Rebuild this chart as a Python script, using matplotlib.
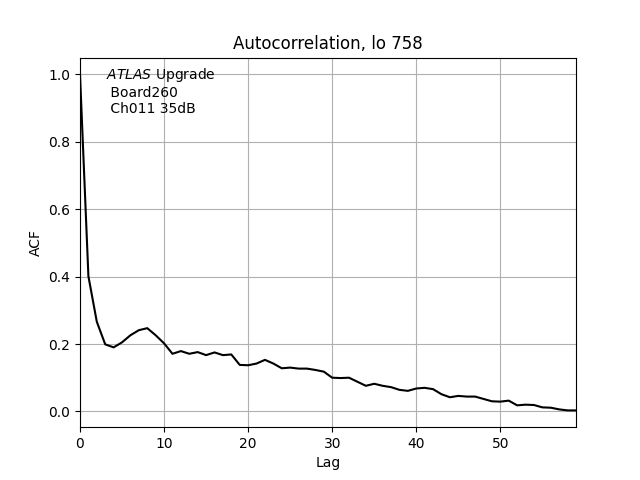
import numpy as np
import matplotlib
matplotlib.use("Agg")
import matplotlib.pyplot as plt

# ACF values, lag 0..59
acf = [1.000, 0.401, 0.266, 0.199, 0.190, 0.205, 0.226, 0.241, 0.247, 0.226,
       0.202, 0.171, 0.179, 0.171, 0.176, 0.167, 0.175, 0.167, 0.169, 0.138,
       0.137, 0.142, 0.153, 0.142, 0.128, 0.130, 0.127, 0.127, 0.123, 0.118,
       0.100, 0.099, 0.100, 0.088, 0.076, 0.082, 0.076, 0.072, 0.064, 0.061,
       0.068, 0.070, 0.066, 0.051, 0.042, 0.046, 0.044, 0.044, 0.037, 0.030,
       0.029, 0.032, 0.018, 0.020, 0.019, 0.012, 0.011, 0.006, 0.003, 0.003]
lags = np.arange(len(acf))

titulo = "Autocorrelation, lo 758"
rotulo = "$\\it{ATLAS}$ Upgrade\n Board260\n Ch011 35dB"

fig, ax = plt.subplots(figsize=(6.4, 4.8), dpi=100)
ax.plot(lags, acf, color="black")
ax.set_xlim(0, lags[-1])
ax.grid(True)
ax.set_xlabel("Lag")
ax.set_ylabel("ACF")
ax.set_title(titulo)
ax.text(0.052, 0.978, rotulo, transform=ax.transAxes, va="top", ha="left")

fig.savefig("out.png")
